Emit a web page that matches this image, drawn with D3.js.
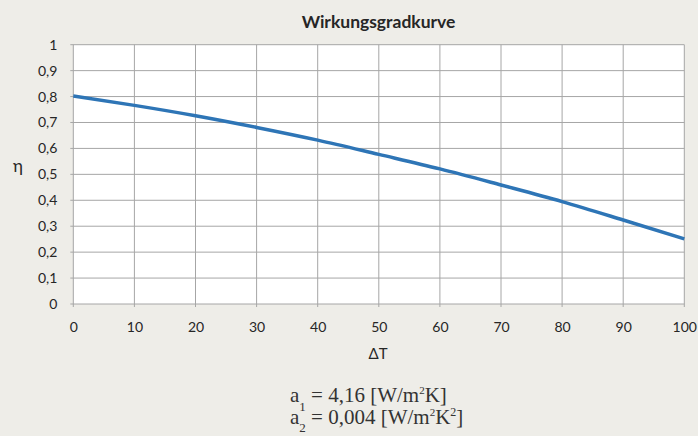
<!DOCTYPE html>
<html>
<head>
<meta charset="utf-8">
<script src="https://cdnjs.cloudflare.com/ajax/libs/d3/7.8.5/d3.min.js"></script>
<style>
  html, body { margin: 0; padding: 0; background: #eeede8; }
  svg { display: block; }
</style>
</head>
<body>
<svg id="chart" width="698" height="436"></svg>
<script>
// ---- data ----
const title = "Wirkungsgradkurve";
const deltaT = [0, 10, 20, 30, 40, 50, 60, 70, 80, 90, 100];
const eta = [0.802, 0.766, 0.726, 0.681, 0.632, 0.577, 0.521, 0.459, 0.395, 0.324, 0.251];
const xTicks = [0, 10, 20, 30, 40, 50, 60, 70, 80, 90, 100];
const yTicks = [0, 0.1, 0.2, 0.3, 0.4, 0.5, 0.6, 0.7, 0.8, 0.9, 1];
const xLabel = "\u0394T";
const yLabel = "\u03B7";

const W = 698, H = 436;
const m = { left: 73.3, right: W - 684.3, top: 44.7, bottom: H - 304 };
const svg = d3.select("#chart");
const fmt = v => String(+v.toFixed(1)).replace(".", ",");

const x = d3.scaleLinear().domain([0, 100]).range([m.left, W - m.right]);
const y = d3.scaleLinear().domain([0, 1]).range([H - m.bottom, m.top]);

const font = "Lato, 'Open Sans', sans-serif";
const textCol = "#262626";
const gridCol = "#a6a6a6";

// plot background
svg.append("rect")
  .attr("x", x(0)).attr("y", y(1))
  .attr("width", x(100) - x(0)).attr("height", y(0) - y(1))
  .attr("fill", "#ffffff");

// grid
svg.append("g").selectAll("line").data(xTicks).join("line")
  .attr("x1", d => x(d)).attr("x2", d => x(d))
  .attr("y1", y(1)).attr("y2", y(0) + 3)
  .attr("stroke", gridCol).attr("stroke-width", 1);
svg.append("g").selectAll("line").data(yTicks).join("line")
  .attr("x1", x(0) - 3).attr("x2", x(100))
  .attr("y1", d => y(d)).attr("y2", d => y(d))
  .attr("stroke", gridCol).attr("stroke-width", 1);

// axes (labels only, via d3 axes)
const xAxis = svg.append("g")
  .attr("transform", `translate(0,${y(0)})`)
  .call(d3.axisBottom(x).tickValues(xTicks).tickSize(0).tickPadding(18).tickFormat(d => d));
const yAxis = svg.append("g")
  .attr("transform", `translate(${x(0)},0)`)
  .call(d3.axisLeft(y).tickValues(yTicks).tickSize(0).tickPadding(16).tickFormat(fmt));
[xAxis, yAxis].forEach(a => {
  a.select(".domain").remove();
  a.selectAll("text").attr("font-family", font).attr("font-size", 14).attr("fill", textCol);
});

// line
const line = d3.line()
  .x((d, i) => x(deltaT[i]))
  .y(d => y(d))
  .curve(d3.curveMonotoneX);
svg.append("path")
  .datum(eta)
  .attr("d", line)
  .attr("fill", "none")
  .attr("stroke", "#2e75b6")
  .attr("stroke-width", 3.5)
  .attr("stroke-linecap", "butt");

// title
svg.append("text")
  .attr("x", 378.5).attr("y", 28)
  .attr("text-anchor", "middle")
  .attr("font-family", font).attr("font-weight", "bold").attr("font-size", 17.5)
  .attr("fill", textCol)
  .text(title);

// axis titles
svg.append("text")
  .attr("x", 378).attr("y", 359)
  .attr("text-anchor", "middle")
  .attr("font-family", font).attr("font-size", 15).attr("fill", textCol)
  .text(xLabel);
svg.append("text")
  .attr("x", 18).attr("y", 172)
  .attr("text-anchor", "middle")
  .attr("font-family", font).attr("font-size", 17).attr("fill", textCol)
  .text(yLabel);

// annotations
const serif = "'Liberation Serif', 'Times New Roman', serif";
function annot(yPos, sub, rest, tail, subDy) {
  const t = svg.append("text")
    .attr("x", 290).attr("y", yPos)
    .attr("font-family", serif).attr("font-size", 21).attr("fill", "#333333");
  t.append("tspan").text("a");
  t.append("tspan").attr("font-size", 13).attr("dy", subDy).text(sub);
  t.append("tspan").attr("dy", -subDy).text(" = " + rest + " [W/m");
  t.append("tspan").attr("font-size", 11).attr("dy", -8).text("2");
  t.append("tspan").attr("dy", 8).text(tail[0]);
  if (tail[1]) {
    t.append("tspan").attr("font-size", 12).attr("dy", -8).text(tail[1]);
    t.append("tspan").attr("dy", 8).text("]");
  }
}
annot(402, "1", "4,16", ["K]"], 9);
annot(424, "2", "0,004", ["K", "2"], 8);
</script>
</body>
</html>
